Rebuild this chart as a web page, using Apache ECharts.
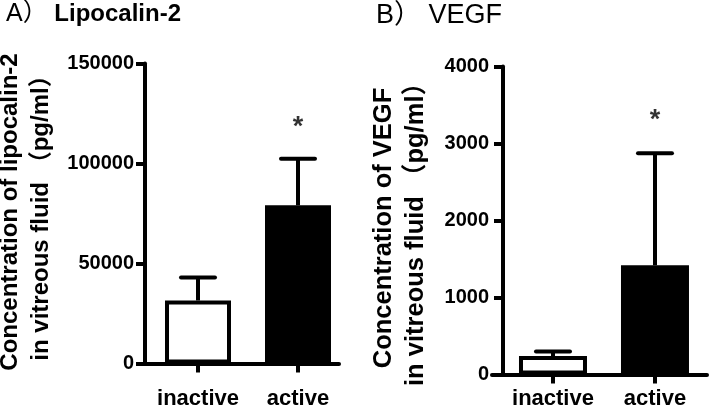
<!DOCTYPE html>
<html><head><meta charset="utf-8">
<script src="https://cdn.jsdelivr.net/npm/echarts@6/dist/echarts.min.js"></script>
<style>html,body{margin:0;padding:0;background:#fff}#c{width:709px;height:406px}</style>
</head><body><div id="c"></div>
<script>
// ---- data ----
const categories = ['inactive', 'active'];
const lipoMean = [31500, 79100];
const lipoSD = [11500, 23300];
const lipoTicks = [0, 50000, 100000, 150000];
const lipoStarY = [null, 118000];
const vegfMean = [240, 1418];
const vegfSD = [60, 1455];
const vegfTicks = [0, 1000, 2000, 3000, 4000];
const vegfStarY = [null, 3300];
const significance = ['', '*'];

const FONT = "'Liberation Sans', Arial, 'Noto Sans CJK SC', sans-serif";
const BLACK = '#000';

function barData(means) {
  return means.map((m, i) => ({
    value: [i + 1, m],
    itemStyle: i === 0
      ? { color: '#fff', borderColor: BLACK, borderWidth: 4 }
      : { color: BLACK, borderColor: BLACK, borderWidth: 4 }
  }));
}
function errData(means, sds) {
  return means.map((m, i) => [i + 1, m, m + sds[i]]);
}
function starData(ys) {
  const out = [];
  ys.forEach((y, i) => { if (y != null) out.push({ value: [i + 1, y], label: { formatter: significance[i] } }); });
  return out;
}
function renderErr(params, api) {
  const x = api.value(0);
  const p1 = api.coord([x, api.value(1)]);
  const p2 = api.coord([x, api.value(2)]);
  return {
    type: 'group',
    children: [
      { type: 'line', shape: { x1: p1[0], y1: p1[1], x2: p2[0], y2: p2[1] }, style: { stroke: BLACK, lineWidth: 4 } },
      { type: 'line', shape: { x1: p2[0] - 17, y1: p2[1], x2: p2[0] + 17, y2: p2[1] }, style: { stroke: BLACK, lineWidth: 4, lineCap: 'round' } }
    ]
  };
}
function xAxisCfg(gridIndex, min, max, margin) {
  return {
    type: 'value', gridIndex, min, max,
    axisLine: { show: true, onZero: false, lineStyle: { color: BLACK, width: 4 } },
    axisTick: { show: true, length: 9, lineStyle: { color: BLACK, width: 4 }, customValues: categories.map((c, i) => i + 1) },
    axisLabel: { show: true, margin, fontFamily: FONT, fontSize: 22, fontWeight: 'bold', color: BLACK,
      customValues: categories.map((c, i) => i + 1), formatter: v => categories[Math.round(v) - 1] },
    splitLine: { show: false }
  };
}
function yAxisCfg(gridIndex, ticks, offset, margin) {
  return {
    type: 'value', gridIndex, min: ticks[0], max: ticks[ticks.length - 1], interval: ticks[1] - ticks[0],
    offset,
    axisLine: { show: true, onZero: false, lineStyle: { color: BLACK, width: 4 } },
    axisTick: { show: true, length: 9, lineStyle: { color: BLACK, width: 4 } },
    axisLabel: { margin, fontFamily: FONT, fontSize: 20, fontWeight: 'bold', color: BLACK, formatter: v => String(v) },
    splitLine: { show: false }
  };
}

const chart = echarts.init(document.getElementById('c'), null, { renderer: 'canvas' });
chart.setOption({
  animation: false,
  backgroundColor: '#fff',
  title: [
    { left: 1, top: -3, text: '{a|A）}{b| Lipocalin-2}',
      textStyle: { fontWeight: 'normal', rich: {
        a: { fontFamily: FONT, fontSize: 25, fontWeight: 'normal', color: BLACK },
        b: { fontFamily: FONT, fontSize: 24, fontWeight: 'bold', color: BLACK } } } },
    { left: 371, top: -3, text: '{a|B） VEGF}',
      textStyle: { fontWeight: 'normal', rich: { a: { fontFamily: FONT, fontSize: 27, fontWeight: 'normal', color: BLACK } } } }
  ],
  graphic: [
    { type: 'text', x: 26, y: 212, rotation: Math.PI / 2,
      style: { text: 'Concentration of lipocalin-2\nin vitreous fluid （pg/ml）', align: 'center', verticalAlign: 'middle',
        fontFamily: FONT, fontSize: 24, fontWeight: 'bold', fill: BLACK, lineHeight: 31 } },
    { type: 'text', x: 400, y: 228, rotation: Math.PI / 2,
      style: { text: 'Concentration of VEGF\nin vitreous fluid （pg/ml）', align: 'center', verticalAlign: 'middle',
        fontFamily: FONT, fontSize: 25.5, fontWeight: 'bold', fill: BLACK, lineHeight: 32 } }
  ],
  grid: [
    { left: 138, top: 63.5, right: 370, bottom: 42.5, outerBoundsMode: 'none', containLabel: false },
    { left: 492, top: 66.5, right: 2, bottom: 31.5, outerBoundsMode: 'none', containLabel: false }
  ],
  xAxis: [xAxisCfg(0, 0.4, 2.41, 24), xAxisCfg(1, 0.402, 2.51, 13)],
  yAxis: [yAxisCfg(0, lipoTicks, -7, 11), yAxisCfg(1, vegfTicks, -11, 14)],
  series: [
    { type: 'custom', xAxisIndex: 0, yAxisIndex: 0, renderItem: renderErr, data: errData(lipoMean, lipoSD), z: 1 },
    { type: 'bar', xAxisIndex: 0, yAxisIndex: 0, barWidth: 66, data: barData(lipoMean), z: 2 },
    { type: 'scatter', xAxisIndex: 0, yAxisIndex: 0, symbolSize: 0, data: starData(lipoStarY),
      label: { show: true, position: 'inside', fontFamily: FONT, fontSize: 27, fontWeight: 'bold', color: BLACK } },
    { type: 'custom', xAxisIndex: 1, yAxisIndex: 1, renderItem: renderErr, data: errData(vegfMean, vegfSD), z: 1 },
    { type: 'bar', xAxisIndex: 1, yAxisIndex: 1, barWidth: 68, data: barData(vegfMean), z: 2 },
    { type: 'scatter', xAxisIndex: 1, yAxisIndex: 1, symbolSize: 0, data: starData(vegfStarY),
      label: { show: true, position: 'inside', fontFamily: FONT, fontSize: 27, fontWeight: 'bold', color: BLACK } }
  ]
});
</script></body></html>
